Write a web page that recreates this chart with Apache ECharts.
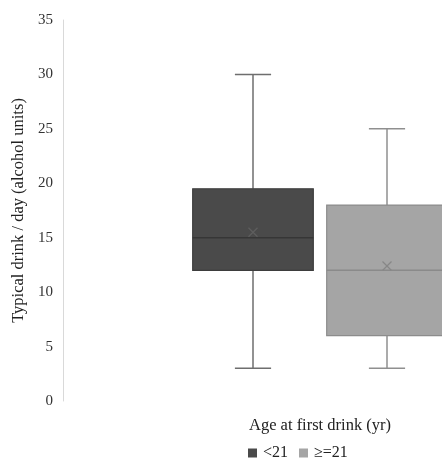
<!DOCTYPE html>
<html><head><meta charset="utf-8">
<script src="https://cdn.jsdelivr.net/npm/echarts@6/dist/echarts.min.js"></script>
<style>html,body{margin:0;padding:0;background:#fff;overflow:hidden;width:442px;height:461px}#c{width:454px;height:461px}</style>
</head><body><div id="c"></div>
<script>
const categories = ['<21', '≥=21'];
// [min, Q1, median, Q3, max]
const boxLt21 = [3, 12, 15, 19.5, 30];
const boxGe21 = [3, 6, 12, 18, 25];
const means = [15.5, 12.4];
const yTicks = [0, 35, 5];

const font = '"Liberation Serif", "Times New Roman", serif';
const styles = [
  { fill: '#4a4a4a', border: '#3d3d3d', median: '#363636', whisker: '#6e6e6e', mean: '#5e5e5e' },
  { fill: '#a5a5a5', border: '#8c8c8c', median: '#8a8a8a', whisker: '#8f8f8f', mean: '#878787' }
];

function makeRender(st) {
  return function (params, api) {
    const ci = api.value(0);
    const v = [1, 2, 3, 4, 5].map(i => api.value(i));
    const mean = api.value(6);
    const band = api.size([1, 0])[0];
    const w = band * 0.9, cap = band * 0.27;
    const pt = val => api.coord([ci, val]);
    const cx = pt(v[0])[0];
    const y = v.map(val => pt(val)[1]);
    const ym = pt(mean)[1];
    const line = (x1, y1, x2, y2, color, lw) => ({
      type: 'line', shape: { x1, y1, x2, y2 }, style: { stroke: color, lineWidth: lw }
    });
    const m = 4.5;
    return {
      type: 'group',
      children: [
        line(cx, y[4], cx, y[3], st.whisker, 1.5),
        line(cx, y[1], cx, y[0], st.whisker, 1.5),
        line(cx - cap / 2, y[4], cx + cap / 2, y[4], st.whisker, 1.5),
        line(cx - cap / 2, y[0], cx + cap / 2, y[0], st.whisker, 1.5),
        { type: 'rect', shape: { x: cx - w / 2, y: y[3], width: w, height: y[1] - y[3] },
          style: { fill: st.fill, stroke: st.border, lineWidth: 1.2 } },
        line(cx - w / 2, y[2], cx + w / 2, y[2], st.median, 1.5),
        line(cx - m, ym - m, cx + m, ym + m, st.mean, 1.2),
        line(cx - m, ym + m, cx + m, ym - m, st.mean, 1.2)
      ]
    };
  };
}

const chart = echarts.init(document.getElementById('c'));
chart.setOption({
  animation: false,
  backgroundColor: '#fff',
  grid: { left: 186, right: 0, top: 20, bottom: 60 },
  xAxis: {
    type: 'category', data: categories, boundaryGap: true,
    axisLine: { show: false }, axisTick: { show: false }, axisLabel: { show: false },
    name: 'Age at first drink (yr)', nameLocation: 'middle', nameGap: 16,
    nameTextStyle: { fontFamily: font, fontSize: 16.5, color: '#222' }
  },
  yAxis: {
    type: 'value', min: yTicks[0], max: yTicks[1], interval: yTicks[2], offset: 123,
    axisLine: { show: true, lineStyle: { color: '#d9d9d9', width: 1 } },
    axisTick: { show: false }, splitLine: { show: false },
    axisLabel: { fontFamily: font, fontSize: 15, color: '#333', margin: 10 },
    name: 'Typical drink / day (alcohol units)', nameLocation: 'middle', nameGap: 35,
    nameTextStyle: { fontFamily: font, fontSize: 16.5, color: '#222' }
  },
  legend: {
    data: categories, left: 243, top: 440, icon: 'rect', itemWidth: 9, itemHeight: 9, itemGap: 11,
    textStyle: { fontFamily: font, fontSize: 16, color: '#222', padding: [0, 0, 0, 1] }
  },
  series: [
    { name: categories[0], type: 'custom', renderItem: makeRender(styles[0]),
      encode: { x: 0, y: [1, 2, 3, 4, 5, 6] },
      itemStyle: { color: styles[0].fill, borderColor: styles[0].border },
      data: [[0].concat(boxLt21, [means[0]])] },
    { name: categories[1], type: 'custom', renderItem: makeRender(styles[1]),
      encode: { x: 0, y: [1, 2, 3, 4, 5, 6] },
      itemStyle: { color: styles[1].fill, borderColor: styles[1].border },
      data: [[1].concat(boxGe21, [means[1]])] }
  ]
});
</script></body></html>
